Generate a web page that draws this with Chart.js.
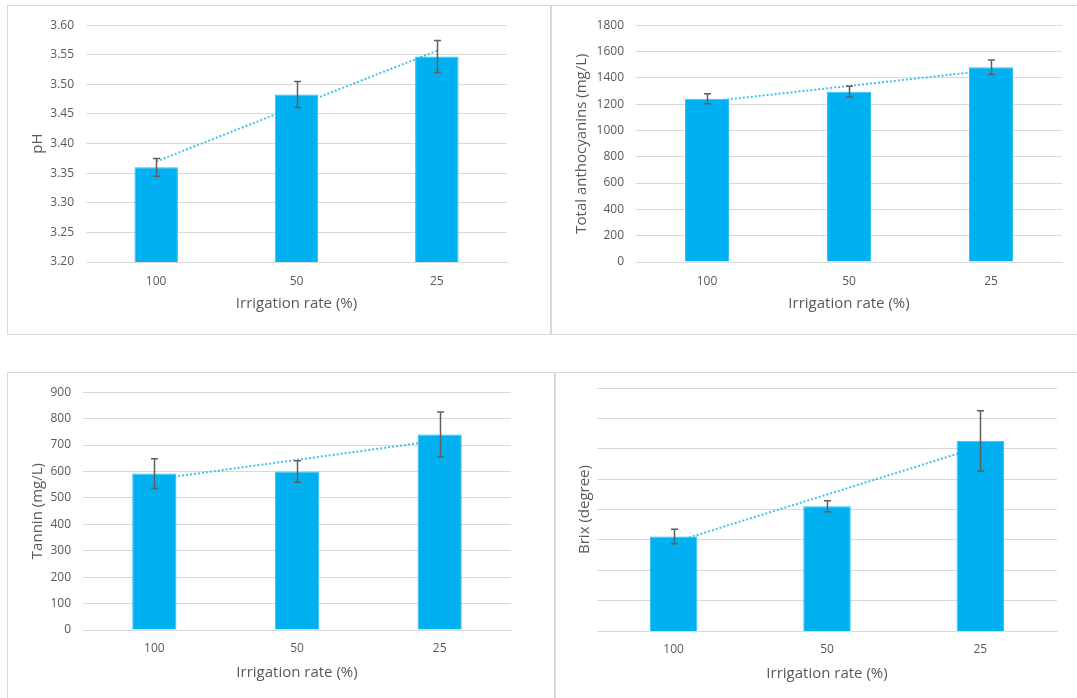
<!DOCTYPE html>
<html>
<head>
<meta charset="utf-8">
<script src="https://cdn.jsdelivr.net/npm/chart.js@4.4.1/dist/chart.umd.min.js"></script>
<style>
  html, body { margin: 0; padding: 0; background: #fff; }
  body { width: 1077px; height: 698px; overflow: hidden; position: relative; }
  .panel { position: absolute; box-sizing: border-box; border: 1px solid #D9D9D9; background: #fff; overflow: hidden; }
  .panel canvas { position: absolute; left: 0; top: 0; }
</style>
</head>
<body>
<div class="panel" style="left:7px;top:5px;width:544px;height:330px"><canvas id="phChart" width="542" height="328"></canvas></div>
<div class="panel" style="left:551px;top:5px;width:540px;height:330px"><canvas id="anthoChart" width="525" height="328"></canvas></div>
<div class="panel" style="left:7px;top:372px;width:548px;height:340px"><canvas id="tanninChart" width="546" height="325"></canvas></div>
<div class="panel" style="left:555px;top:372px;width:540px;height:340px"><canvas id="brixChart" width="521" height="325"></canvas></div>

<script>
// Irrigation treatments (share of full irrigation)
const irrigationRates = ['100', '50', '25'];

// Berry / must composition: means and standard errors per treatment
const phMeans = [3.36, 3.483, 3.547];
const phErrors = [0.015, 0.022, 0.027];

const anthocyaninMeans = [1240, 1295, 1480];
const anthocyaninErrors = [38, 41, 55];

const tanninMeans = [592, 600, 740];
const tanninErrors = [56, 41, 85];

const brixMeans = [23.11, 24.11, 26.26];
const brixErrors = [0.24, 0.18, 0.99];

const BAR_BLUE = '#00B0F0';
const TREND_BLUE = '#45BEF0';
const GRID = '#D9D9D9';
const TEXT = '#595959';
const FONT = "'Open Sans', 'Liberation Sans', sans-serif";

// Least-squares linear trend through the treatment means
function linearTrend(values) {
  const n = values.length;
  const xs = values.map((_, i) => i + 1);
  const mx = xs.reduce((a, b) => a + b, 0) / n;
  const my = values.reduce((a, b) => a + b, 0) / n;
  let sxy = 0, sxx = 0;
  xs.forEach((x, i) => { sxy += (x - mx) * (values[i] - my); sxx += (x - mx) * (x - mx); });
  const slope = sxy / sxx;
  return xs.map(x => my + slope * (x - mx));
}

// Draws +/- error whiskers with caps on top of the bars
const errorBarPlugin = {
  id: 'errorBars',
  afterDatasetsDraw(chart, args, opts) {
    const errs = opts.errors;
    if (!errs) return;
    const meta = chart.getDatasetMeta(0);
    const y = chart.scales.y;
    const ctx = chart.ctx;
    ctx.save();
    ctx.strokeStyle = '#5F5F5F';
    ctx.lineWidth = 1.5;
    meta.data.forEach((bar, i) => {
      const v = chart.data.datasets[0].data[i];
      const x = Math.round(bar.x) + 0.5;
      const yTop = y.getPixelForValue(v + errs[i]);
      const yBot = y.getPixelForValue(v - errs[i]);
      ctx.beginPath();
      ctx.moveTo(x, yTop); ctx.lineTo(x, yBot);
      ctx.moveTo(x - 3.5, yTop); ctx.lineTo(x + 3.5, yTop);
      ctx.moveTo(x - 3.5, yBot); ctx.lineTo(x + 3.5, yBot);
      ctx.stroke();
    });
    ctx.restore();
  }
};

function makeChart(id, opt) {
  const c = opt.canvas;   // canvas box in page coordinates
  const a = opt.area;     // plot area in page coordinates
  new Chart(document.getElementById(id), {
    data: {
      labels: irrigationRates,
      datasets: [
        {
          type: 'bar',
          data: opt.means,
          backgroundColor: BAR_BLUE,
          borderColor: '#2FC0F4',
          borderWidth: 1,
          barPercentage: 0.31,
          categoryPercentage: 1,
          order: 1
        },
        {
          type: 'line',
          data: linearTrend(opt.means),
          borderColor: TREND_BLUE,
          borderWidth: 2,
          borderDash: [2, 2],
          pointRadius: 0,
          fill: false,
          order: 2
        }
      ]
    },
    options: {
      responsive: false,
      animation: false,
      events: [],
      layout: {
        padding: { left: 0, bottom: 0, top: a.top - c.top, right: (c.left + c.width) - a.right }
      },
      plugins: {
        legend: { display: false },
        tooltip: { enabled: false },
        errorBars: { errors: opt.errors }
      },
      scales: {
        x: {
          grid: { display: false, drawTicks: false },
          border: { display: true, color: GRID, width: 1 },
          ticks: { color: TEXT, font: { family: FONT, size: 12 }, padding: opt.xTickPad },
          title: {
            display: true, text: 'Irrigation rate (%)', color: TEXT,
            font: { family: FONT, size: 15 }, padding: { top: 0, bottom: opt.xTitlePad }
          },
          afterFit(scale) { scale.height = (c.top + c.height) - a.bottom; }
        },
        y: {
          min: opt.min, max: opt.max,
          grid: { color: GRID, lineWidth: 1, drawTicks: false },
          border: { display: false },
          ticks: {
            display: opt.showTicks !== false,
            stepSize: opt.step,
            color: TEXT,
            font: { family: FONT, size: 12 },
            padding: 12,
            callback: v => opt.decimals ? Number(v).toFixed(opt.decimals) : Math.round(v)
          },
          title: {
            display: true, text: opt.yTitle, color: TEXT,
            font: { family: FONT, size: 15 }, padding: { top: opt.yTitlePad, bottom: 0 }
          },
          afterFit(scale) { scale.width = a.left - c.left; }
        }
      }
    },
    plugins: [errorBarPlugin]
  });
}

makeChart('phChart', {
  canvas: { left: 8, top: 6, width: 542, height: 328 },
  area: { left: 86, right: 507, top: 22, bottom: 262 },
  means: phMeans, errors: phErrors,
  min: 3.2, max: 3.6, step: 0.05, decimals: 2,
  yTitle: 'pH', yTitlePad: 21, xTitlePad: 21, xTickPad: 12
});

makeChart('anthoChart', {
  canvas: { left: 552, top: 6, width: 525, height: 328 },
  area: { left: 636, right: 1062, top: 21, bottom: 262 },
  means: anthocyaninMeans, errors: anthocyaninErrors,
  min: 0, max: 1800, step: 200,
  yTitle: 'Total anthocyanins (mg/L)', yTitlePad: 20.7, xTitlePad: 21, xTickPad: 12
});

makeChart('tanninChart', {
  canvas: { left: 8, top: 373, width: 546, height: 325 },
  area: { left: 83, right: 511, top: 388, bottom: 630 },
  means: tanninMeans, errors: tanninErrors,
  min: 0, max: 900, step: 100,
  yTitle: 'Tannin (mg/L)', yTitlePad: 20.5, xTitlePad: 16.7, xTickPad: 11
});

makeChart('brixChart', {
  canvas: { left: 556, top: 373, width: 521, height: 325 },
  area: { left: 597, right: 1057, top: 388, bottom: 631 },
  means: brixMeans, errors: brixErrors,
  min: 20, max: 28, step: 1, showTicks: false,
  yTitle: 'Brix (degree)', yTitlePad: 20, xTitlePad: 15.7, xTickPad: 11
});
</script>
</body>
</html>
